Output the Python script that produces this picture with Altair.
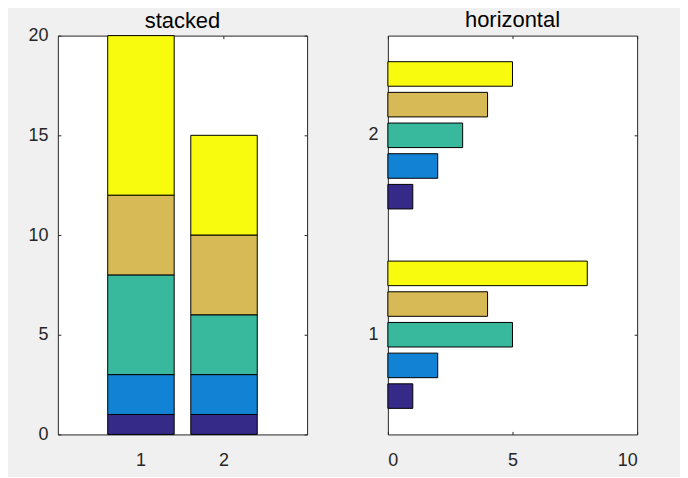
import altair as alt
import pandas as pd

groups = ["1", "2"]
series = [1, 2, 3, 4, 5]
values_g1 = [1, 2, 5, 4, 8]
values_g2 = [1, 2, 3, 4, 5]
colors = ["#352A87", "#1283D4", "#38B99E", "#D7BA55", "#F9FB0E"]
y_ticks_stacked = [0, 5, 10, 15, 20]
x_ticks_horiz = [0, 5, 10]

rows = []
for g, vals in zip(groups, [values_g1, values_g2]):
    for s, v in zip(series, vals):
        rows.append({"group": g, "series": s, "value": v})
df = pd.DataFrame(rows)

FONT = "Liberation Sans"
TXT = "#262626"

color = alt.Color("series:N", scale=alt.Scale(domain=series, range=colors), legend=None)

def inner_axis(orient, values=None, labels=True, extent=None):
    kw = dict(orient=orient, offset=-3, tickSize=3, domain=False, grid=False,
              tickColor=TXT, labels=labels, title=None, labelFont=FONT,
              labelFontSize=18, labelColor=TXT, labelPadding=10, labelAngle=0)
    if values is not None:
        kw["values"] = values
    if extent is not None:
        kw["minExtent"] = extent
        kw["maxExtent"] = extent
    if orient == "bottom":
        kw["labelPadding"] = 17
    return alt.Axis(**kw)

def title(text, offset):
    return alt.TitleParams(text, font=FONT, fontSize=22, fontWeight="normal",
                           color="black", offset=offset, frame="group")

# stacked chart
xs = alt.Scale(domain=groups, paddingInner=0.2, paddingOuter=0.6)
ys = alt.Scale(domain=[0, 20], nice=False, zero=True)

stack_bars = alt.Chart(df).mark_bar(stroke="black", strokeWidth=1).encode(
    x=alt.X("group:N", scale=xs, axis=inner_axis("bottom"), sort=groups),
    y=alt.Y("sum(value):Q", scale=ys, stack="zero",
            axis=inner_axis("left", y_ticks_stacked, extent=52)),
    color=color,
    order=alt.Order("series:Q", sort="ascending"),
)
stack_mirror = alt.Chart(df).mark_bar(opacity=0).encode(
    x=alt.X("group:N", scale=xs, axis=inner_axis("top", labels=False, extent=0), sort=groups),
    y=alt.Y("sum(value):Q", scale=ys, stack="zero",
            axis=inner_axis("right", y_ticks_stacked, labels=False, extent=0)),
    color=color,
    order=alt.Order("series:Q", sort="ascending"),
)
stacked = alt.layer(stack_bars, stack_mirror).resolve_axis(
    x="independent", y="independent"
).properties(width=250, height=400, title=title("stacked", -6))

# horizontal grouped chart
hx = alt.Scale(domain=[0, 10], nice=False)
hy = alt.Scale(domain=["2", "1"], paddingInner=0, paddingOuter=0)
hyo = alt.Scale(domain=[5, 4, 3, 2, 1], paddingInner=0.2, paddingOuter=0.85)

h_bars = alt.Chart(df).mark_bar(stroke="black", strokeWidth=1).encode(
    y=alt.Y("group:N", scale=hy, axis=inner_axis("left", extent=30)),
    yOffset=alt.YOffset("series:N", scale=hyo),
    x=alt.X("value:Q", scale=hx, axis=inner_axis("bottom", x_ticks_horiz)),
    color=color,
)
h_mirror = alt.Chart(df).mark_bar(opacity=0).encode(
    y=alt.Y("group:N", scale=hy, axis=inner_axis("right", labels=False, extent=0)),
    yOffset=alt.YOffset("series:N", scale=hyo),
    x=alt.X("value:Q", scale=hx, axis=inner_axis("top", x_ticks_horiz, labels=False, extent=0)),
    color=color,
)
horizontal = alt.layer(h_bars, h_mirror).resolve_axis(
    x="independent", y="independent"
).properties(width=250, height=400, title=title("horizontal", 3))

chart = alt.hconcat(stacked, horizontal, spacing=52).properties(
    padding={"left": 0, "top": 0, "right": 42, "bottom": 6},
    background="#F0F0F0",
).configure_view(
    stroke="#262626", strokeWidth=1, fill="white"
)

chart.save("out.html", embed_options={"renderer": "svg", "actions": False})
